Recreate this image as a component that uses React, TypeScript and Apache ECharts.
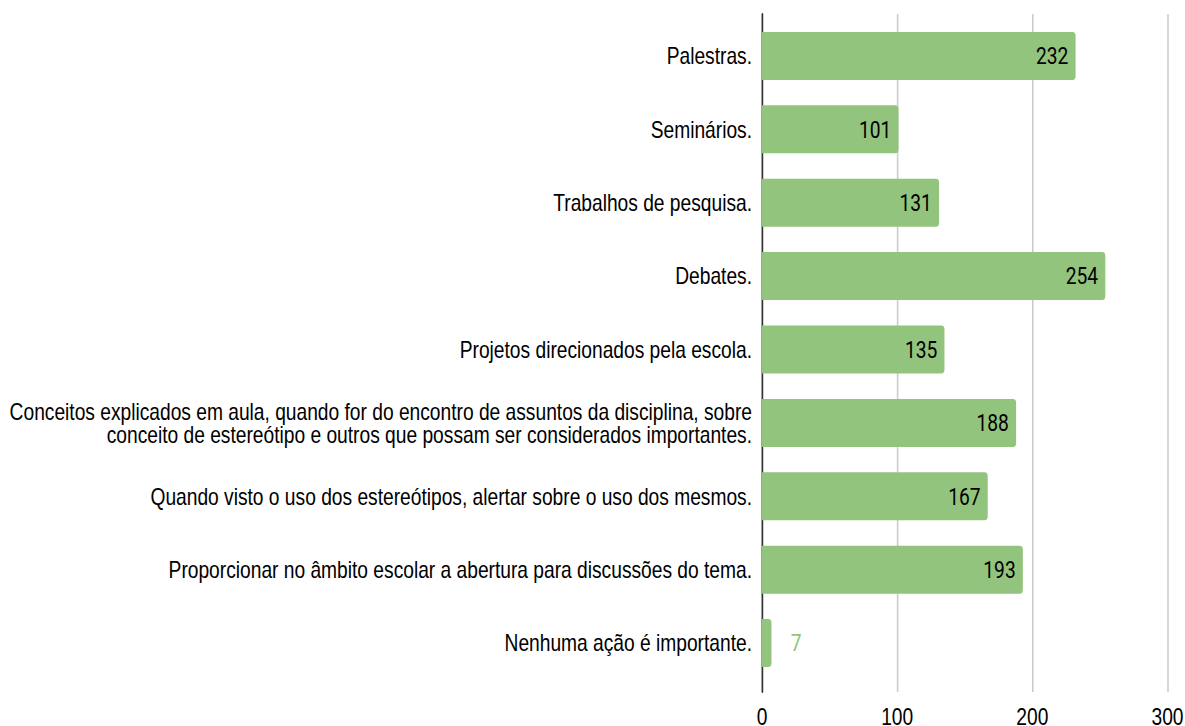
import React, { useEffect, useRef } from "react";
import * as echarts from "echarts";

const categories = [
  "Palestras.",
  "Seminários.",
  "Trabalhos de pesquisa.",
  "Debates.",
  "Projetos direcionados pela escola.",
  "Conceitos explicados em aula, quando for do encontro de assuntos da disciplina, sobre\nconceito de estereótipo e outros que possam ser considerados importantes.",
  "Quando visto o uso dos estereótipos, alertar sobre o uso dos mesmos.",
  "Proporcionar no âmbito escolar a abertura para discussões do tema.",
  "Nenhuma ação é importante.",
];
const values = [232, 101, 131, 254, 135, 188, 167, 193, 7];
const xTicks = [0, 100, 200, 300];

const GREEN = "#93c47d";
const LABEL_FONT = "'Liberation Sans', Arial, sans-serif";
const VALUE_FONT = "Roboto, sans-serif";
const FS = 24;
// the reference is horizontally condensed; draw wider then squeeze
const SQ = 0.8;
const W = 1185 / SQ;
const H = 726;

export default function App() {
  const ref = useRef<HTMLDivElement>(null);
  useEffect(() => {
    if (!ref.current) return;
    const chart = echarts.init(ref.current, null, { renderer: "svg" });
    const xMin = xTicks[0];
    const xMax = xTicks[xTicks.length - 1];
    const left = 762 / SQ;
    const right = W - 1167.7 / SQ;
    chart.setOption({
      animation: false,
      grid: [
        { left, right, top: 14, bottom: 34, containLabel: false, outerBoundsMode: "none" },
        { left, right, top: 19.3, bottom: 46.3, containLabel: false, outerBoundsMode: "none" },
      ],
      xAxis: [
        {
          gridIndex: 0,
          type: "value",
          min: xMin,
          max: xMax,
          interval: 100,
          axisLine: { show: false },
          axisTick: { show: false },
          axisLabel: { color: "#000", fontFamily: LABEL_FONT, fontSize: FS, margin: 13 },
          splitLine: { show: true, lineStyle: { color: "#cccccc", width: 2 } },
        },
        {
          gridIndex: 1,
          type: "value",
          min: xMin,
          max: xMax,
          show: false,
          splitLine: { show: false },
        },
      ],
      yAxis: [
        {
          gridIndex: 0,
          type: "value",
          min: 0,
          max: 1,
          axisLine: { show: true, onZero: false, lineStyle: { color: "#333", width: 2 } },
          axisTick: { show: false },
          axisLabel: { show: false },
          splitLine: { show: false },
        },
        {
          gridIndex: 1,
          type: "category",
          inverse: true,
          data: categories,
          axisLine: { show: false },
          axisTick: { show: false },
          splitLine: { show: false },
          axisLabel: {
            color: "#000",
            fontFamily: LABEL_FONT,
            fontSize: FS,
            margin: 12.5,
            align: "right",
            lineHeight: 23,
          },
        },
      ],
      series: [
        {
          type: "bar",
          xAxisIndex: 1,
          yAxisIndex: 1,
          barWidth: 48,
          data: values.map((v) => ({
            value: v,
            label:
              v < 20
                ? {
                    show: true,
                    position: "right",
                    distance: 24,
                    color: GREEN,
                    fontFamily: VALUE_FONT,
                    fontSize: FS,
                  }
                : undefined,
          })),
          itemStyle: { color: GREEN, borderRadius: [0, 4, 4, 0] },
          label: {
            show: true,
            position: "insideRight",
            distance: 9,
            color: "#000",
            fontFamily: VALUE_FONT,
            fontSize: FS,
          },
        },
      ],
    });
    return () => chart.dispose();
  }, []);
  return (
    <div
      style={{
        position: "fixed",
        left: 0,
        top: 0,
        width: 1185,
        height: H,
        overflow: "hidden",
        background: "#fff",
      }}
    >
      <div
        ref={ref}
        style={{
          width: W,
          height: H,
          transform: `scaleX(${SQ})`,
          transformOrigin: "0 0",
        }}
      />
    </div>
  );
}
